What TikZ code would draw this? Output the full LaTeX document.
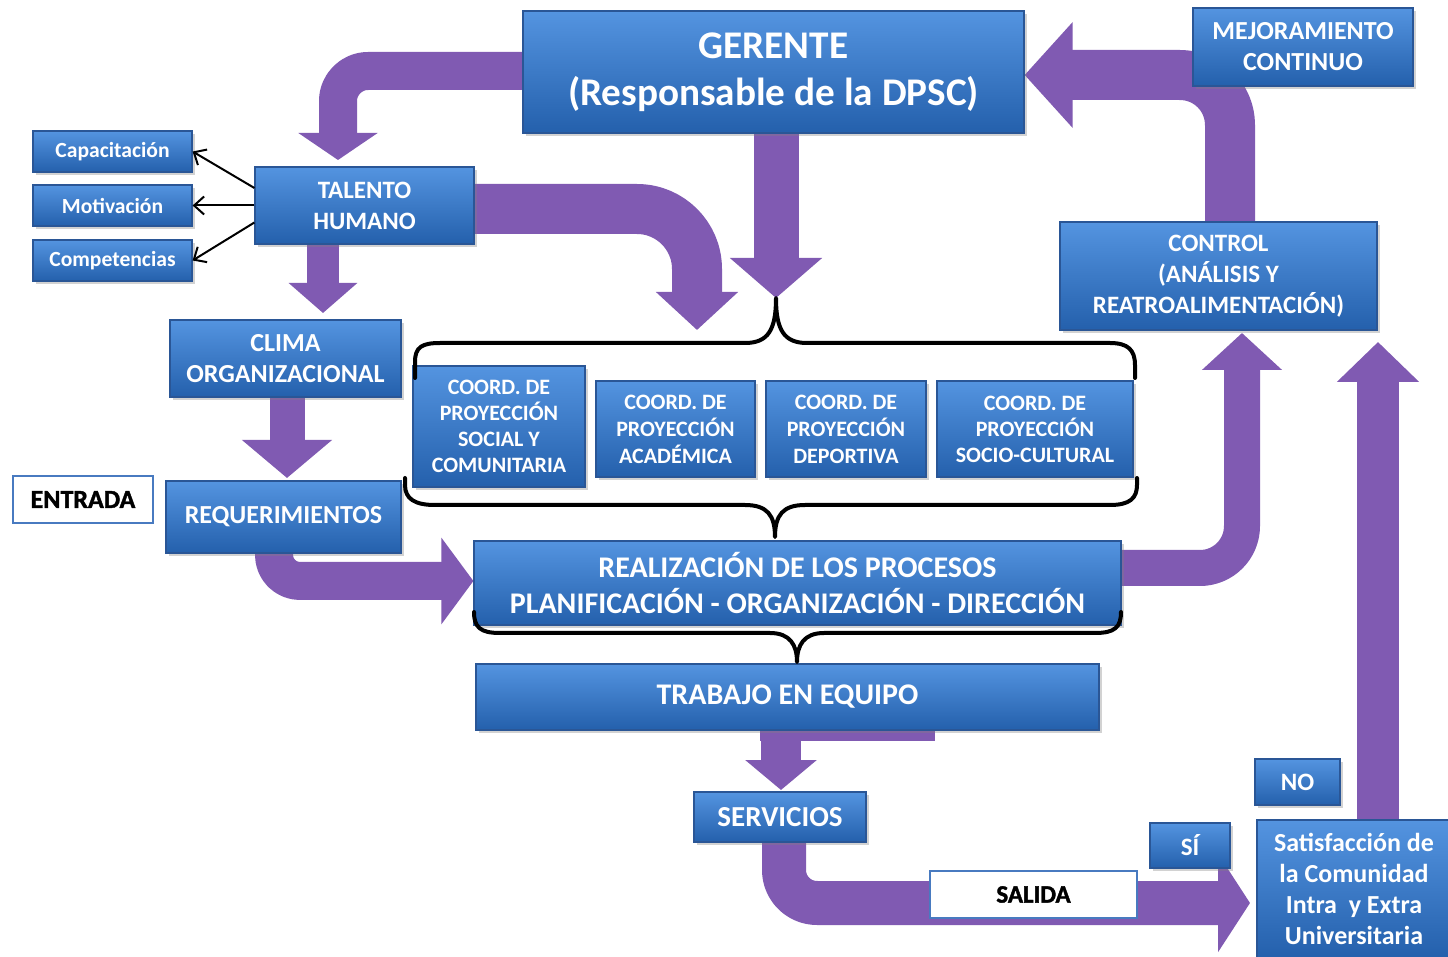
\documentclass[tikz,border=0pt]{standalone}
\usepackage{fontspec}
\setmainfont{Carlito}
\newfontfamily\heavyfont{Carlito}[BoldFeatures={FakeBold=1.6}]
\usetikzlibrary{arrows.meta,shadows,calc}
\definecolor{btop}{RGB}{84,148,224}
\definecolor{bbot}{RGB}{36,96,172}
\definecolor{bedge}{RGB}{42,86,150}
\definecolor{arp}{RGB}{128,90,178}
\definecolor{wedge}{RGB}{72,122,192}
\pgfdeclarelayer{bg}
\pgfsetlayers{bg,main}
\tikzset{
  bbox/.style={draw=bedge, line width=0.6pt, top color=btop, bottom color=bbot,
    text=white, align=center, inner sep=0pt,
    drop shadow={shadow xshift=1.5pt, shadow yshift=-1.5pt, opacity=0.35}},
  wbox/.style={draw=wedge, line width=1.4pt, fill=white, text=black,
    align=center, inner sep=0pt},
  fz/.style 2 args={font=\fontsize{#1}{#2}\selectfont\bfseries},
  hz/.style 2 args={font=\fontsize{#1}{#2}\selectfont\heavyfont\bfseries},
  fat/.style n args={3}{draw=arp, line width=#1, line join=round,
    -{Triangle[width=#2, length=#3]}},
  smallarr/.style={draw=black, line width=1pt, -{Straight Barb[length=5pt,width=9pt]}},
  bracestyle/.style={draw=black, line width=2pt, line cap=round, line join=round},
}
\begin{document}
\begin{tikzpicture}[x=0.5pt,y=-0.5pt]
\useasboundingbox (0,0) rectangle (1448,957);
\begin{pgfonlayer}{bg}
\fill[white] (0,0) rectangle (1448,957);
\end{pgfonlayer}

% nodes
\node[bbox, minimum width=250.5pt, minimum height=61pt, fz={19.6}{23.5}] (ger) at (773.5,72) {GERENTE\\(Responsable de la DPSC)};
\node[bbox, minimum width=110pt, minimum height=39pt, fz={13}{15.5}] (mej) at (1303,47) {MEJORAMIENTO\\CONTINUO};
\node[bbox, minimum width=79.5pt, minimum height=20.5pt, fz={10.8}{13}] (cap) at (112.5,151.5) {Capacitación};
\node[bbox, minimum width=79.5pt, minimum height=20.5pt, fz={10.8}{13}] (mot) at (112.5,205.5) {Motivación};
\node[bbox, minimum width=79.5pt, minimum height=20.5pt, fz={10.8}{13}] (com) at (112.5,260.5) {Competencias};
\node[bbox, minimum width=109.5pt, minimum height=38.5pt, fz={12.5}{15.5}] (tal) at (364.5,205.5) {TALENTO\\HUMANO};
\node[bbox, minimum width=115.5pt, minimum height=38.5pt, fz={13}{15.5}] (cli) at (285.5,358.5) {CLIMA\\ORGANIZACIONAL};
\node[wbox, minimum width=70pt, minimum height=23.5pt, hz={13}{15}] (ent) at (83,499.5) {ENTRADA};
\node[bbox, minimum width=117.5pt, minimum height=36pt, fz={13}{15}] (req) at (283.5,517) {REQUERIMIENTOS};
\node[bbox, minimum width=86pt, minimum height=60.5pt, fz={11}{13}] (c1) at (499,426.5) {COORD. DE\\PROYECCIÓN\\SOCIAL Y\\COMUNITARIA};
\node[bbox, minimum width=79.5pt, minimum height=48pt, fz={11}{13.5}] (c2) at (675.5,429) {COORD. DE\\PROYECCIÓN\\ACADÉMICA};
\node[bbox, minimum width=80pt, minimum height=48pt, fz={11}{13.5}] (c3) at (846,429) {COORD. DE\\PROYECCIÓN\\DEPORTIVA};
\node[bbox, minimum width=98pt, minimum height=48pt, fz={11}{13}] (c4) at (1035,429) {COORD. DE\\PROYECCIÓN\\SOCIO-CULTURAL};
\node[bbox, minimum width=323.5pt, minimum height=42pt, fz={15}{18}] (rea) at (797.5,583) {REALIZACIÓN DE LOS PROCESOS\\PLANIFICACIÓN - ORGANIZACIÓN - DIRECCIÓN};
\node[bbox, minimum width=311.5pt, minimum height=33pt, fz={15}{18}] (tra) at (787.5,697) {TRABAJO EN EQUIPO};
\node[bbox, minimum width=86pt, minimum height=25pt, fz={14.5}{17}] (ser) at (780,817) {SERVICIOS};
\node[bbox, minimum width=40pt, minimum height=22.5pt, fz={12.5}{15}] (si) at (1190,845.5) {SÍ};
\node[bbox, minimum width=42.5pt, minimum height=23pt, fz={12.5}{15}] (no) at (1297.5,782) {NO};
\node[bbox, minimum width=97pt, minimum height=69pt, fz={13}{15.5}] (sat) at (1354,889) {Satisfacción de\\la Comunidad\\Intra\ \ y Extra\\Universitaria};
\node[bbox, minimum width=158.5pt, minimum height=54pt, fz={12.5}{15.5}] (ctl) at (1218.5,276) {CONTROL\\(ANÁLISIS Y\\REATROALIMENTACIÓN)};

% named end points of the block arrows
\coordinate (t1) at (338,160);
\coordinate (bt) at (776,298);
\coordinate (t3) at (697,330);
\coordinate (t4) at (323,313);
\coordinate (t5) at (287,478);
\coordinate (v6) at (274,0);
\coordinate (t7) at (1242,333);
\coordinate (t8) at (1378,342);
\coordinate (v9) at (1230,0);
\coordinate (t10) at (781,790);
\coordinate (v11) at (784,0);
\coordinate (t11) at (1250,903);

\begin{pgfonlayer}{bg}
\draw[fat={19pt}{39pt}{13.5pt}, rounded corners=15pt] ([yshift=0.5pt]ger.center) -| (t1);
\draw[fat={22.5pt}{45pt}{20pt}] (ger.center -| bt) -- (bt);
\draw[fat={25pt}{40pt}{19pt}, rounded corners=30pt] ([yshift=-1.75pt]tal.center) -| (t3);
\draw[fat={16pt}{33.5pt}{15pt}] (tal.center -| t4) -- (t4);
\draw[fat={17.5pt}{44pt}{19pt}] (cli.center -| t5) -- (t5);
\draw[fat={19pt}{42.5pt}{16pt}, rounded corners=13pt] (req.center -| v6) |- ([yshift=1pt]rea.west);
\draw[fat={18pt}{39pt}{18.5pt}, rounded corners=21pt] ([yshift=7.5pt]rea.center) -| (t7);
\draw[fat={21pt}{40pt}{20pt}] (sat.center -| t8) -- (t8);
\draw[fat={25pt}{51.5pt}{24pt}, rounded corners=25pt] (ctl.center -| v9) |- ([yshift=-1.5pt]ger.east);
\draw[fat={20pt}{35pt}{15pt}] (tra.center -| t10) -- (t10);
\draw[fat={22pt}{48.5pt}{16pt}, rounded corners=16.5pt] (ser.center -| v11) |- (t11);
\fill[arp] (760,726) rectangle (935,741);
\end{pgfonlayer}

\node[wbox, minimum width=103.5pt, minimum height=23.5pt, hz={12.5}{14}] (sal) at (1033.5,894.5) {SALIDA};

% thin arrows
\draw[smallarr] ([yshift=8.75pt]tal.west) -- (cap.east);
\draw[smallarr] (tal.west) -- (mot.east);
\draw[smallarr] ([yshift=-8.5pt]tal.west) -- (com.east);

% braces
\draw[bracestyle] (415,378) -- (415,362) .. controls (415,347) and (422,343) .. (440,343) -- (745,343) .. controls (768,343) and (776,330) .. (bt) .. controls (776,330) and (784,343) .. (807,343) -- (1110,343) .. controls (1128,343) and (1135,350) .. (1135,365) -- (1135,378);
\draw[bracestyle] (405,478) -- (405,485) .. controls (405,499) and (415,505) .. (435,505) -- (745,505) .. controls (767,505) and (775,515) .. (775,537) .. controls (775,515) and (783,505) .. (805,505) -- (1110,505) .. controls (1130,505) and (1137,498) .. (1137,485) -- (1137,478);
\draw[bracestyle] (474,612) .. controls (474,627) and (480,633) .. (500,633) -- (770,633) .. controls (790,633) and (797,645) .. (797,662) .. controls (797,645) and (804,633) .. (824,633) -- (1095,633) .. controls (1115,633) and (1121,627) .. (1121,612);
\end{tikzpicture}
\end{document}
